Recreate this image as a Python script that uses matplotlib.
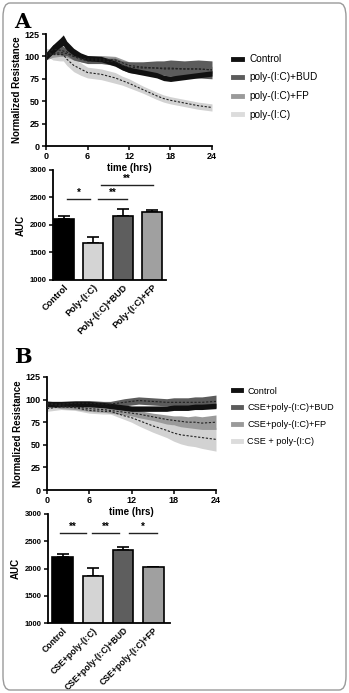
import numpy as np
import matplotlib

matplotlib.use("Agg")
import matplotlib.pyplot as plt
from matplotlib.lines import Line2D
from matplotlib.patches import FancyBboxPatch

plt.rcParams["font.family"] = ["Liberation Sans", "DejaVu Sans"]

# ---- panel A: resistance time courses (mean, half band width) ----
t_a = [0, 1, 2, 2.5, 3, 4, 5, 6, 8, 10, 11, 12, 14, 16, 17, 18, 20, 22, 24]
ctrl_a = [100, 108, 115, 118, 112, 105, 101, 98, 97, 92, 88, 85, 82, 79, 76, 75, 77, 79, 81]
ctrl_a_err = [4, 5, 5, 6, 5, 4, 3, 3, 3, 3, 3, 3, 3, 3, 3, 3, 3, 3, 3]
bud_a = [100, 108, 107, 106, 105, 100, 97, 95, 95, 94, 90, 88, 87, 87, 87, 87, 86, 86, 85]
bud_a_err = [4, 5, 5, 5, 4, 4, 3, 3, 3, 4, 5, 6, 7, 8, 8, 9, 9, 10, 10]
fp_a = [100, 103, 104, 104, 103, 100, 98, 97, 97, 96, 93, 90, 88, 87, 86, 86, 86, 86, 85]
fp_a_err = [4, 4, 4, 4, 4, 4, 4, 4, 4, 4, 4, 4, 4, 4, 4, 4, 4, 4, 4]
poly_a = [105, 102, 102, 102, 97, 90, 86, 82, 80, 76, 73, 70, 63, 56, 53, 51, 48, 45, 43]
poly_a_err = [4, 6, 7, 7, 7, 7, 7, 6, 6, 6, 5, 5, 4, 4, 4, 4, 4, 4, 4]

# ---- panel B ----
t_b = [0, 2, 4, 6, 8, 9, 11, 12, 13, 15, 17, 18, 19, 20, 21, 22, 24]
ctrl_b = [95, 95, 95, 95, 94, 93, 91, 90, 90, 90, 90, 91, 91, 91, 92, 92, 93]
ctrl_b_err = [3, 3, 3, 3, 3, 3, 3, 3, 3, 3, 3, 3, 3, 3, 3, 3, 3]
bud_b = [95, 95, 96, 96, 95, 95, 97, 98, 99, 98, 97, 97, 97, 97, 97, 97, 98]
bud_b_err = [3, 3, 3, 3, 3, 3, 4, 4, 4, 4, 4, 5, 5, 5, 6, 6, 7]
fp_b = [96, 93, 92, 90, 89, 88, 86, 85, 84, 81, 78, 77, 76, 75, 75, 74, 75]
fp_b_err = [3, 3, 3, 3, 3, 3, 3, 3, 4, 4, 5, 5, 6, 6, 7, 7, 8]
poly_b = [90, 92, 91, 88, 87, 87, 82, 80, 77, 71, 66, 63, 61, 60, 59, 58, 56]
poly_b_err = [3, 3, 3, 3, 3, 3, 4, 5, 6, 7, 8, 9, 10, 11, 11, 12, 13]

# ---- AUC bars ----
auc_labels_a = ["Control", "Poly-(I:C)", "Poly-(I:C)+BUD", "Poly-(I:C)+FP"]
auc_a = [2100, 1680, 2160, 2230]
auc_a_err = [70, 110, 130, 50]
auc_labels_b = ["Control", "CSE+poly-(I:C)", "CSE+poly-(I:C)+BUD", "CSE+poly-(I:C)+FP"]
auc_b = [2220, 1860, 2340, 2020]
auc_b_err = [50, 150, 60, 15]

legend_a = ["Control", "poly-(I:C)+BUD", "poly-(I:C)+FP", "poly-(I:C)"]
legend_b = ["Control", "CSE+poly-(I:C)+BUD", "CSE+poly-(I:C)+FP", "CSE + poly-(I:C)"]

band_colors = ["#111111", "#5c5c5c", "#9a9a9a", "#d2d2d2"]
bar_colors = ["#000000", "#d4d4d4", "#5e5e5e", "#a0a0a0"]

W, H = 349, 693
fig = plt.figure(figsize=(W / 100, H / 100), dpi=100)
fig.patches.append(FancyBboxPatch((3 / W, 3 / H), 343 / W, 687 / H,
                                  boxstyle="round,pad=0,rounding_size=0.02",
                                  transform=fig.transFigure, fill=False,
                                  edgecolor="#9a9a9a", lw=1.0))


def px_axes(left, top, right, bottom):
    ax = fig.add_axes([left / W, 1 - bottom / H, (right - left) / W, (bottom - top) / H])
    ax.patch.set_alpha(0)
    return ax


def style(ax):
    for s in ["top", "right"]:
        ax.spines[s].set_visible(False)
    for s in ["left", "bottom"]:
        ax.spines[s].set_linewidth(1.3)
    ax.tick_params(width=1.1, length=3, labelsize=6.5, pad=1.5)
    for lab in ax.get_xticklabels() + ax.get_yticklabels():
        lab.set_fontweight("bold")


def line_panel(ax, t, series, labels, leg_top, leg_size, leg_space):
    order = [3, 2, 1, 0]
    for i in order:
        m, e = series[i]
        m = np.array(m)
        e = np.array(e)
        ax.fill_between(t, m - e, m + e, color=band_colors[i], lw=0, zorder=1 + (3 - i))
    for i in [3, 2, 1]:
        m, e = series[i]
        ax.plot(t, m, ls=(0, (2, 1.5)), color="#222222", lw=0.8, zorder=6)
    ax.set_xlim(0, 24)
    ax.set_ylim(0, 125)
    ax.set_xticks([0, 6, 12, 18, 24])
    ax.set_yticks([0, 25, 50, 75, 100, 125])
    ax.set_ylabel("Normalized Resistance", fontsize=7, fontweight="bold", labelpad=2)
    ax.set_xlabel("time (hrs)", fontsize=7, fontweight="bold", labelpad=1)
    style(ax)
    handles = [Line2D([0], [0], color=c, lw=3.5) for c in band_colors]
    handles[3] = Line2D([0], [0], color="#dcdcdc", lw=3.5)
    ax.legend(handles, labels, loc="upper left", bbox_to_anchor=(228 / W, 1 - leg_top / H),
              bbox_transform=fig.transFigure, frameon=False, fontsize=leg_size,
              handlelength=0.9, handletextpad=0.7, labelspacing=leg_space, borderpad=0)


def bar_panel(ax, labels, vals, errs, xlim, sigs, lab_size):
    x = np.arange(len(vals))
    ax.bar(x, vals, width=0.68, color=bar_colors, edgecolor="black", lw=1.2, zorder=2)
    ax.errorbar(x, vals, yerr=[np.zeros(len(errs)), errs], fmt="none", ecolor="black",
                elinewidth=1.2, capsize=4, capthick=1.2, zorder=1)
    ax.set_ylim(1000, 3000)
    ax.set_xlim(*xlim)
    ax.set_yticks([1000, 1500, 2000, 2500, 3000])
    ax.set_xticks(x)
    ax.set_xticklabels(labels, rotation=45, ha="right", rotation_mode="anchor")
    ax.set_ylabel("AUC", fontsize=7, fontweight="bold", labelpad=3)
    style(ax)
    ax.tick_params(axis="x", length=0, pad=2, labelsize=lab_size)
    ax.tick_params(axis="y", labelsize=5.5)
    for x0, x1, y, star in sigs:
        ax.plot([x0, x1], [y, y], color="#222222", lw=1.0, clip_on=False)
        ax.text((x0 + x1) / 2, y + 15, star, ha="center", va="bottom", fontsize=7,
                fontweight="bold", clip_on=False)


# panel A
ax1 = px_axes(46, 34, 212, 146)
line_panel(ax1, t_a, [(ctrl_a, ctrl_a_err), (bud_a, bud_a_err), (fp_a, fp_a_err),
                      (poly_a, poly_a_err)], legend_a, 49, 7.2, 0.85)
ax2 = px_axes(53, 170, 166, 280)
bar_panel(ax2, auc_labels_a, auc_a, auc_a_err, (-0.375, 3.48),
          [(0.1, 0.9, 2470, "*"), (1.15, 2.15, 2470, "**"), (1.25, 3.05, 2730, "**")], 6.6)

# panel B
ax3 = px_axes(47, 377, 216, 490)
line_panel(ax3, t_b, [(ctrl_b, ctrl_b_err), (bud_b, bud_b_err), (fp_b, fp_b_err),
                      (poly_b, poly_b_err)], legend_b, 382, 6.6, 0.85)
ax4 = px_axes(48, 514, 170, 623)
bar_panel(ax4, auc_labels_b, auc_b, auc_b_err, (-0.48, 3.55),
          [(-0.08, 0.78, 2650, "**"), (0.98, 1.87, 2650, "**"), (2.2, 3.12, 2650, "*")], 6.2)

fig.text(14 / W, 1 - 22 / H, "A", fontsize=15, fontweight="bold", family="DejaVu Serif",
         va="center")
fig.text(14 / W, 1 - 357 / H, "B", fontsize=15, fontweight="bold", family="DejaVu Serif",
         va="center")

fig.savefig("out.png", dpi=100)
